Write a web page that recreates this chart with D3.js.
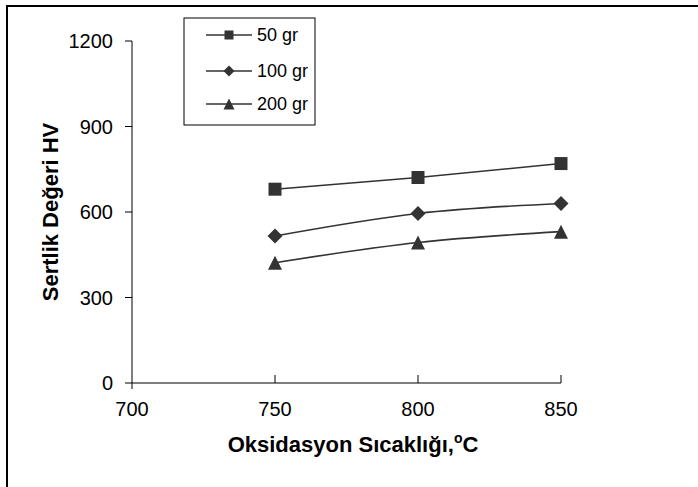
<!DOCTYPE html>
<html lang="tr">
<head>
<meta charset="utf-8">
<title>Sertlik Değeri HV</title>
<style>
  body { margin: 0; background: #fff; }
  svg text { font-family: "Liberation Sans", Arial, Helvetica, sans-serif; fill: #000; }
  svg text.tick-label { font-size: 20px; }
  svg text.axis-title { font-size: 22px; font-weight: bold; }
  svg text.legend-label { font-size: 18px; }
</style>
</head>
<body>
<svg width="698" height="487"></svg>
<script src="https://d3js.org/d3.v7.min.js"></script>
<script>
  // data
  const temperatures = [750, 800, 850];
  const seriesNames = ['50 gr', '100 gr', '200 gr'];
  const hv50 = [680, 721, 770];
  const hv100 = [516, 595, 630];
  const hv200 = [422, 493, 531];
  const xTicks = [700, 750, 800, 850];
  const yTicks = [0, 300, 600, 900, 1200];

  // marker shapes, size = width in px
  const square = { draw(c, s) { const h = s / 2; c.rect(-h, -h, s, s); } };
  const diamond = { draw(c, s) { const h = s / 2; c.moveTo(0, -h); c.lineTo(h, 0); c.lineTo(0, h); c.lineTo(-h, 0); c.closePath(); } };
  const triangle = { draw(c, s) { const h = s / 2; c.moveTo(0, -h); c.lineTo(h, h); c.lineTo(-h, h); c.closePath(); } };

  const series = [
    { name: seriesNames[0], values: hv50, symbol: square, size: 13, legendSize: 9 },
    { name: seriesNames[1], values: hv100, symbol: diamond, size: 15, legendSize: 11 },
    { name: seriesNames[2], values: hv200, symbol: triangle, size: 14, legendSize: 11 }
  ];

  const svg = d3.select('svg');
  const ink = '#333';

  // outer frame (only top and left edges are inside the picture)
  svg.append('rect')
    .attr('x', 7).attr('y', 6)
    .attr('width', 720).attr('height', 520)
    .attr('fill', 'none').attr('stroke', '#000').attr('stroke-width', 2);

  const x = d3.scaleLinear().domain([700, 850]).range([132, 561]);
  const y = d3.scaleLinear().domain([0, 1200]).range([383, 41]);

  // y axis
  const yAxis = svg.append('g');
  yAxis.append('line')
    .attr('x1', x(700)).attr('x2', x(700))
    .attr('y1', y(1200)).attr('y2', y(0) + 6)
    .attr('stroke', '#000');
  yAxis.selectAll('line.tick').data(yTicks).enter().append('line')
    .attr('class', 'tick')
    .attr('x1', x(700) - 7).attr('x2', x(700))
    .attr('y1', d => y(d)).attr('y2', d => y(d))
    .attr('stroke', '#000');
  yAxis.selectAll('text').data(yTicks).enter().append('text')
    .attr('class', 'tick-label')
    .attr('x', 113).attr('y', d => y(d))
    .attr('dy', '0.36em')
    .attr('text-anchor', 'end')
    .text(d => d);

  // x axis
  const xAxis = svg.append('g');
  xAxis.append('line')
    .attr('x1', x(700)).attr('x2', x(850))
    .attr('y1', y(0)).attr('y2', y(0))
    .attr('stroke', '#000');
  xAxis.selectAll('line.tick').data(xTicks.slice(1)).enter().append('line')
    .attr('class', 'tick')
    .attr('x1', d => x(d)).attr('x2', d => x(d))
    .attr('y1', y(0) - 8).attr('y2', y(0))
    .attr('stroke', '#000');
  xAxis.selectAll('text').data(xTicks).enter().append('text')
    .attr('class', 'tick-label')
    .attr('x', d => x(d)).attr('y', 416)
    .attr('text-anchor', 'middle')
    .text(d => d);

  // axis titles
  const xTitle = svg.append('text')
    .attr('class', 'axis-title')
    .attr('x', 353).attr('y', 452)
    .attr('text-anchor', 'middle');
  xTitle.append('tspan').text('Oksidasyon Sıcaklığı,');
  xTitle.append('tspan').attr('font-size', 14).attr('dy', -9).text('o');
  xTitle.append('tspan').attr('dy', 9).text('C');

  svg.append('text')
    .attr('class', 'axis-title')
    .attr('transform', 'translate(58,212) rotate(-90)')
    .attr('text-anchor', 'middle')
    .text('Sertlik Değeri HV');

  // series
  const line = d3.line()
    .x((d, i) => x(temperatures[i]))
    .y(d => y(d))
    .curve(d3.curveMonotoneX);

  const groups = svg.selectAll('g.series').data(series).enter().append('g')
    .attr('class', 'series');

  groups.append('path')
    .attr('d', d => line(d.values))
    .attr('fill', 'none')
    .attr('stroke', ink)
    .attr('stroke-width', 1.6);

  groups.each(function(s) {
    d3.select(this).selectAll('path.marker').data(s.values).enter().append('path')
      .attr('class', 'marker')
      .attr('transform', (d, i) => `translate(${x(temperatures[i])},${y(d)})`)
      .attr('d', d3.symbol().type(s.symbol).size(s.size))
      .attr('fill', ink);
  });

  // legend
  const legend = svg.append('g');
  legend.append('rect')
    .attr('x', 184).attr('y', 18)
    .attr('width', 131).attr('height', 107)
    .attr('fill', '#fff').attr('stroke', '#000');

  const rows = legend.selectAll('g.row').data(series).enter().append('g')
    .attr('class', 'row')
    .attr('transform', (d, i) => `translate(0,${[35, 71, 104][i]})`);
  rows.append('line')
    .attr('x1', 206).attr('x2', 252)
    .attr('stroke', ink).attr('stroke-width', 1.6);
  rows.append('path')
    .attr('transform', 'translate(229,0)')
    .attr('d', d => d3.symbol().type(d.symbol).size(d.legendSize)())
    .attr('fill', ink);
  rows.append('text')
    .attr('class', 'legend-label')
    .attr('x', 257).attr('dy', '0.36em')
    .text(d => d.name);
</script>
</body>
</html>
